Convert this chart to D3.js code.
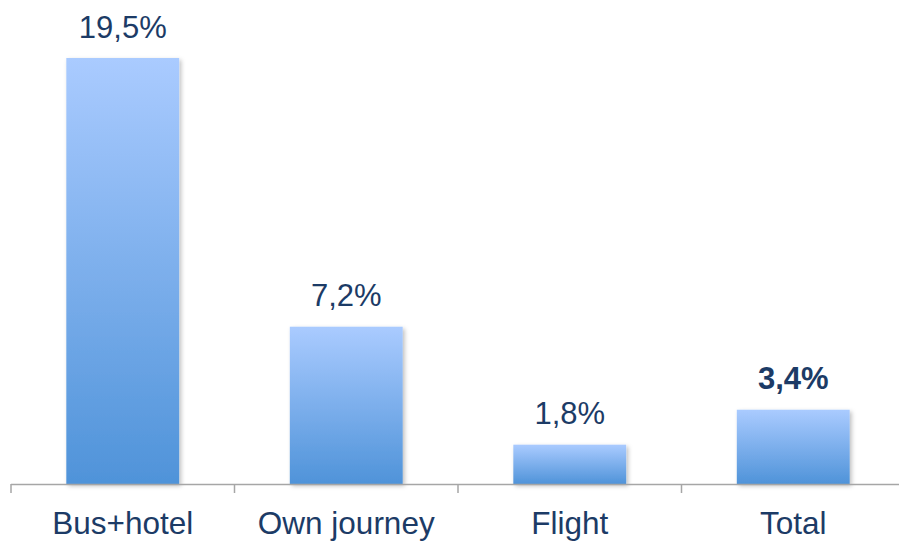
<!DOCTYPE html>
<html>
<head>
<meta charset="utf-8">
<script src="https://d3js.org/d3.v7.min.js"></script>
<style>
body { margin: 0; background: #fff; }
</style>
</head>
<body>
<script>
// data
let categories = ["Bus+hotel", "Own journey", "Flight", "Total"];
let values = [19.5, 7.2, 1.8, 3.4];
let valueLabels = ["19,5%", "7,2%", "1,8%", "3,4%"];
let boldLabel = [false, false, false, true];

let width = 899, height = 541;
let svg = d3.select("body").append("svg")
    .attr("width", width)
    .attr("height", height);

let axisY = 484;
let x = d3.scaleBand()
    .domain(categories)
    .range([11, 905])
    .paddingInner(0.495)
    .paddingOuter(0.2475);
let y = d3.scaleLinear()
    .domain([0, 19.5])
    .range([axisY, 58]);

// gradient + soft shadow like the office chart
let defs = svg.append("defs");
let grad = defs.append("linearGradient")
    .attr("id", "barGrad")
    .attr("x1", 0).attr("y1", 0).attr("x2", 0).attr("y2", 1);
grad.append("stop").attr("offset", "0%").attr("stop-color", "#aacbff");
grad.append("stop").attr("offset", "100%").attr("stop-color", "#4f93d9");

let shadow = defs.append("filter").attr("id", "shadow")
    .attr("x", "-10%").attr("y", "-10%").attr("width", "130%").attr("height", "130%");
shadow.append("feDropShadow")
    .attr("dx", 2).attr("dy", 2).attr("stdDeviation", 2)
    .attr("flood-color", "#000").attr("flood-opacity", 0.25);

let data = categories.map((c, i) => ({name: c, value: values[i], label: valueLabels[i], bold: boldLabel[i]}));

svg.selectAll(".bar")
    .data(data)
    .join("rect")
    .attr("class", "bar")
    .attr("x", d => x(d.name))
    .attr("y", d => y(d.value))
    .attr("width", x.bandwidth())
    .attr("height", d => axisY - y(d.value))
    .attr("fill", "url(#barGrad)")
    .attr("filter", "url(#shadow)");

// axis line with ticks between categories
let edges = d3.range(categories.length + 1).map(i => 11 + i * x.step());
svg.append("line")
    .attr("x1", 11).attr("x2", width)
    .attr("y1", axisY + 0.5).attr("y2", axisY + 0.5)
    .attr("stroke", "#a6a6a6").attr("stroke-width", 1.5);
svg.selectAll(".tick")
    .data(edges)
    .join("line")
    .attr("class", "tick")
    .attr("x1", d => d).attr("x2", d => d)
    .attr("y1", axisY).attr("y2", axisY + 9)
    .attr("stroke", "#a6a6a6").attr("stroke-width", 1.5);

svg.selectAll(".cat")
    .data(data)
    .join("text")
    .attr("class", "cat")
    .attr("x", d => x(d.name) + x.bandwidth() / 2)
    .attr("y", 534)
    .attr("text-anchor", "middle")
    .attr("font-family", "Liberation Sans, Arial, sans-serif")
    .attr("font-size", 31.5)
    .attr("fill", "#1c3b66")
    .text(d => d.name);

svg.selectAll(".val")
    .data(data)
    .join("text")
    .attr("class", "val")
    .attr("x", d => x(d.name) + x.bandwidth() / 2)
    .attr("y", d => y(d.value) - 20.5)
    .attr("text-anchor", "middle")
    .attr("font-family", "Liberation Sans, Arial, sans-serif")
    .attr("font-size", 31)
    .attr("font-weight", d => d.bold ? "bold" : "normal")
    .attr("fill", "#1c3b66")
    .text(d => d.label);
</script>
</body>
</html>
